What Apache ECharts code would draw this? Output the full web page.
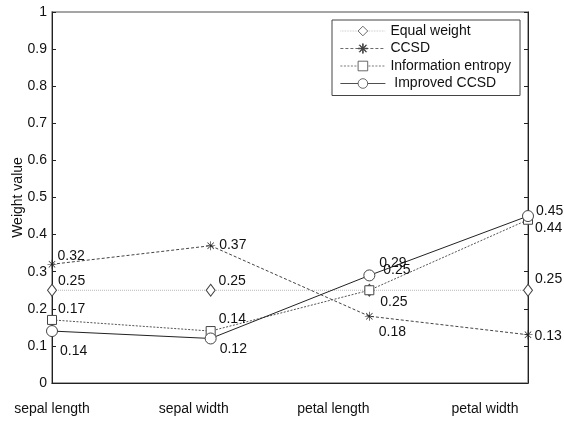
<!DOCTYPE html>
<html><head><meta charset="utf-8">
<script src="https://cdn.jsdelivr.net/npm/echarts@6/dist/echarts.min.js"></script>
<style>html,body{margin:0;padding:0;background:#fff}#c{width:564px;height:426px}</style>
</head><body><div id="c"></div>
<script>
const categories = ['sepal length', 'sepal width', 'petal length', 'petal width'];
const seriesNames = ['Equal weight', 'CCSD', 'Information entropy', ' Improved CCSD'];
const equalWeight = [0.25, 0.25, 0.25, 0.25];
const ccsd = [0.32, 0.37, 0.18, 0.13];
const infoEntropy = [0.17, 0.14, 0.25, 0.44];
const improvedCcsd = [0.14, 0.12, 0.29, 0.45];
const yTicks = [0, 0.1, 0.2, 0.3, 0.4, 0.5, 0.6, 0.7, 0.8, 0.9, 1];

const FONT = 'Liberation Sans, Arial, sans-serif';
const asterisk = 'path://M9.3,0H10.7V20H9.3Z M0,9.3H20V10.7H0Z M2.4,3.4L3.4,2.4L17.6,16.6L16.6,17.6Z M16.6,2.4L17.6,3.4L3.4,17.6L2.4,16.6Z';

// label offsets [dx, dy] per point (layout only)
const labelOffsets = [
  [[1,-9],[3,-9],[6,12],[2,-11]],
  [[1,-8],[4,-1],[5,16],[2,1]],
  [[1,-11],[3,-12],[9,-20],[2,8]],
  [[2,20],[3,11],[4,-12],[2,-5]]
];
const values = [equalWeight, ccsd, infoEntropy, improvedCcsd];
const symbols = ['diamond', asterisk, 'rect', 'circle'];
const symbolSizes = [[9,12], 9, 9, 11];
const lineColors = ['#b8b8b8', '#444', '#555', '#222'];
const lineTypes = ['dotted', [3,2], [2,1.5], 'solid'];
const fillColors = ['#fff', '#222', '#fff', '#fff'];

const series = values.map((vals, si) => ({
  name: seriesNames[si],
  type: 'line',
  data: vals.map((v, i) => ({
    value: v,
    label: {
      show: true,
      position: 'right',
      distance: 0,
      offset: labelOffsets[si][i],
      formatter: String(v.toFixed(2)),
      fontFamily: FONT, fontSize: 14, color: '#111'
    }
  })),
  symbol: symbols[si],
  symbolSize: symbolSizes[si],
  showAllSymbol: true,
  lineStyle: { color: lineColors[si], width: 1, type: lineTypes[si] },
  itemStyle: { color: fillColors[si], borderColor: '#444', borderWidth: si === 1 ? 0 : 1 },
  emphasis: { disabled: true },
  animation: false,
  z: 2 + si
}));

const padRight = [0, 34, 72, 86];
const rich = {};
padRight.forEach((p, i) => { rich['c' + i] = { padding: [0, p, 0, 0], fontFamily: FONT, fontSize: 14, color: '#111' }; });

const option = {
  animation: false,
  grid: { left: 52, right: 36, top: 12, bottom: 43, outerBoundsMode: 'none', containLabel: false,
    show: true, borderColor: '#888', borderWidth: 1.5, backgroundColor: '#fff' },
  legend: {
    orient: 'vertical', left: 332, top: 20,
    itemWidth: 45, itemHeight: 12, itemGap: 3.5,
    padding: [4, 9, 5, 8],
    backgroundColor: '#fff', borderColor: '#444', borderWidth: 1,
    itemStyle: { borderWidth: 0.8 },
    lineStyle: { width: 0.8 },
    textStyle: { fontFamily: FONT, fontSize: 14, color: '#111', lineHeight: 14 },
    data: seriesNames
  },
  xAxis: {
    type: 'category', data: categories, boundaryGap: false,
    axisLine: { lineStyle: { color: '#222', width: 1 } },
    axisTick: { show: false },
    splitLine: { show: false },
    axisLabel: {
      margin: 19, interval: 0,
      formatter: (v, i) => '{c' + i + '|' + v + '}',
      rich: rich
    }
  },
  yAxis: [{
    type: 'value', min: yTicks[0], max: yTicks[yTicks.length - 1], interval: 0.1,
    name: 'Weight value', nameLocation: 'middle', nameGap: 27, nameRotate: 90,
    nameMoveOverlap: false,
    nameTextStyle: { fontFamily: FONT, fontSize: 14, color: '#111' },
    axisLine: { show: true, lineStyle: { color: '#222' } },
    axisTick: { show: true, inside: true, length: 4, lineStyle: { color: '#222' } },
    splitLine: { show: false },
    axisLabel: { margin: 5, fontFamily: FONT, fontSize: 14, color: '#111',
      formatter: v => String(Math.round(v * 10) / 10) }
  }, {
    type: 'value', position: 'right', min: 0, max: 1, interval: 0.1,
    axisLine: { show: true, lineStyle: { color: '#222' } },
    axisTick: { show: true, inside: true, length: 4, lineStyle: { color: '#222' } },
    axisLabel: { show: false }, splitLine: { show: false }
  }],
  series: series
};
const chart = echarts.init(document.getElementById('c'), null, { renderer: 'canvas' });
chart.setOption(option);
</script></body></html>
